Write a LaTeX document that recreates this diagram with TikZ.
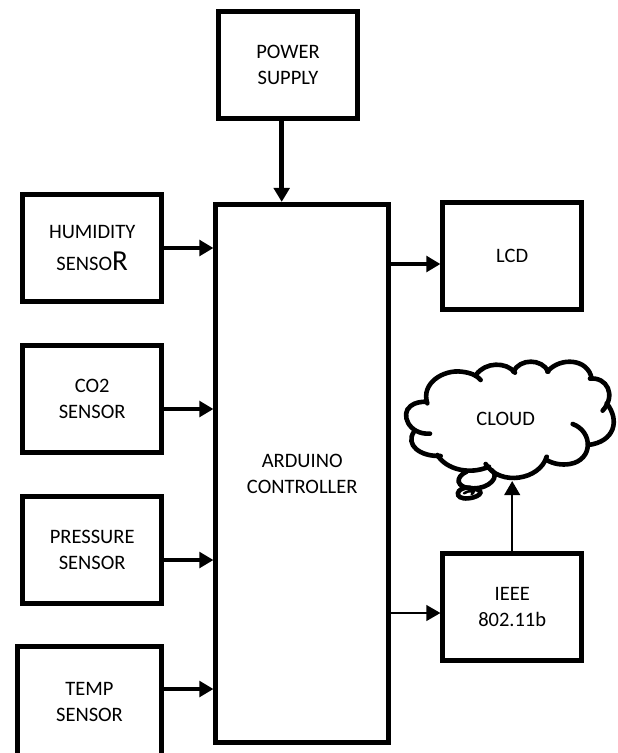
\documentclass[tikz,border=0pt]{standalone}
\usepackage{fontspec}
\setmainfont{Carlito}
\usepackage{tikz}
\usetikzlibrary{arrows.meta,positioning,calc}

\begin{document}
\begin{tikzpicture}[
    x=1pt, y=-1pt,
    blk/.style={draw, line width=5pt, align=center, font=\fontsize{20.5}{26}\selectfont, inner sep=0pt},
    arr/.style={-{Triangle[length=14pt, width=15.5pt]}, line width=4.6pt},
    thinarr/.style={-{Triangle[length=14pt, width=15.5pt]}, line width=2.4pt},
    cld/.style={line width=4.6pt, line cap=round}
]
\useasboundingbox (0,0) rectangle (618,753);

\node[blk, minimum width=138.5pt, minimum height=107pt] (power) at (288,65) {POWER\\SUPPLY};
\node[blk, minimum width=172.5pt, minimum height=538.5pt] (ard) at (302.2,473.7) {ARDUINO\\CONTROLLER};
\node[blk, minimum width=138.5pt, minimum height=107pt] (hum) at (92.2,248) {HUMIDITY\\[6pt]SENSO{\fontsize{29}{29}\selectfont R}};
\node[blk, minimum width=138.5pt, minimum height=107pt] (co2) at (92.2,398.7) {CO2\\SENSOR};
\node[blk, minimum width=138.5pt, minimum height=107pt] (press) at (92.2,549.5) {PRESSURE\\SENSOR};
\node[blk, minimum width=144pt, minimum height=112pt] (temp) at (89.5,702) {TEMP\\SENSOR};
\node[blk, minimum width=138.5pt, minimum height=107pt] (lcd) at (512.2,255.7) {LCD};
\node[blk, minimum width=138.5pt, minimum height=107pt] (ieee) at (512.2,606.7) {IEEE\\802.11b};
\node[font=\fontsize{20.5}{26}\selectfont, inner sep=0pt] (cloud) at (505.7,419) {CLOUD};

% cloud outline, lobe by lobe
\begin{scope}[shift={(390,320)}, x=0.3333pt, y=-0.3333pt]
\draw[cld] (112,250) .. controls (92,190) and (160,148) .. (215,155) .. controls (240,158) and (260,165) .. (272,180);
\draw[cld] (258,165) .. controls (285,125) and (350,125) .. (375,158);
\draw[cld] (370,155) .. controls (390,115) and (455,115) .. (475,155);
\draw[cld] (472,155) .. controls (510,110) and (595,115) .. (605,176);
\draw[cld] (600,176) .. controls (650,170) and (680,225) .. (638,272);
\draw[cld] (650,250) .. controls (690,300) and (675,365) .. (595,375);
\draw[cld] (548,312) .. controls (610,335) and (610,420) .. (540,432) .. controls (515,436) and (490,432) .. (470,420);
\draw[cld] (470,410) .. controls (450,480) and (330,500) .. (287,432);
\draw[cld] (297,440) .. controls (240,465) and (170,450) .. (142,405);
\draw[cld] (152,408) .. controls (90,410) and (45,375) .. (72,335);
\draw[cld] (120,341) .. controls (55,345) and (30,280) .. (62,258) .. controls (75,247) and (95,245) .. (110,245);
% thought bubbles
\draw[cld] (230,455) .. controls (195,470) and (195,505) .. (250,505) .. controls (300,505) and (330,470) .. (305,450);
\draw[cld] (240,503) .. controls (195,500) and (190,540) .. (235,535) .. controls (280,530) and (285,505) .. (240,506);
\draw[cld, line width=2.5pt] (222,520) .. controls (235,510) and (262,512) .. (245,522);
\end{scope}

% connectors
\coordinate (cloudbot) at (512.2,481);
\draw[arr] (power.south -| 281.7,0) -- (ard.north -| 281.7,0);
\draw[arr] (hum.east) -- (hum.east -| ard.west);
\draw[arr] (co2.east |- 0,409) -- (ard.west |- 0,409);
\draw[arr] (press.east |- 0,560) -- (ard.west |- 0,560);
\draw[arr] (temp.east |- 0,689) -- (ard.west |- 0,689);
\draw[arr] (ard.east |- 0,264) -- (lcd.west |- 0,264);
\draw[thinarr] (ard.east |- 0,613) -- (ieee.west |- 0,613);
\draw[thinarr] (ieee.north) -- (cloudbot);
\end{tikzpicture}
\end{document}
